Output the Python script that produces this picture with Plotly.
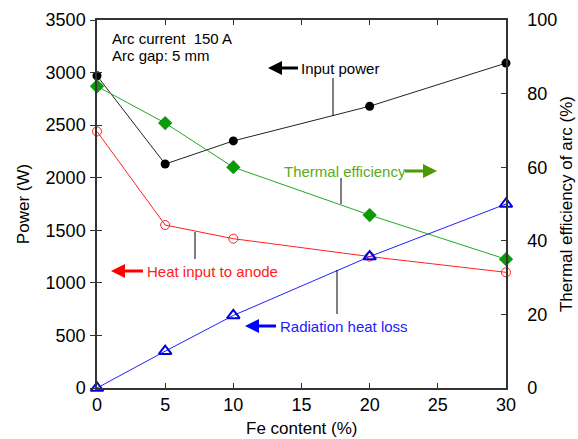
import plotly.graph_objects as go

# ---- data ----
fe_content = [0, 5, 10, 20, 30]
input_power = [2970, 2130, 2350, 2680, 3090]
heat_anode = [2440, 1550, 1420, 1250, 1100]
radiation_loss = [0, 350, 690, 1250, 1750]
thermal_eff = [82, 72, 60, 47, 35]

x_ticks = [0, 5, 10, 15, 20, 25, 30]
y_ticks = [0, 500, 1000, 1500, 2000, 2500, 3000, 3500]
y2_ticks = [0, 20, 40, 60, 80, 100]

FONT = "Liberation Sans, Arial, sans-serif"
W, H = 578, 439
L, R, T, B = 97, 506, 20, 388  # plot-area pixel box


def px(x):
    return (x - L) / (R - L)


def py(y):
    return (B - y) / (B - T)


fig = go.Figure()

fig.add_trace(go.Scatter(
    x=fe_content, y=input_power, mode="lines+markers",
    line=dict(color="#222222", width=1),
    marker=dict(symbol="circle", size=9, color="black"),
    cliponaxis=False, showlegend=False))
fig.add_trace(go.Scatter(
    x=fe_content, y=heat_anode, mode="lines+markers",
    line=dict(color="#ff2020", width=1),
    marker=dict(symbol="circle-open", size=9, color="#ff2020", line=dict(width=1)),
    cliponaxis=False, showlegend=False))
fig.add_trace(go.Scatter(
    x=fe_content, y=radiation_loss, mode="lines+markers",
    line=dict(color="#2020ff", width=1),
    marker=dict(symbol="triangle-up-open", size=11, color="#0000dd", line=dict(width=2)),
    cliponaxis=False, showlegend=False))
fig.add_trace(go.Scatter(
    x=fe_content, y=thermal_eff, mode="lines+markers", yaxis="y2",
    line=dict(color="#22aa22", width=1),
    marker=dict(symbol="diamond", size=11, color="#0a9a0a"),
    cliponaxis=False, showlegend=False))

shapes = []


def leader(x, y0, y1):
    shapes.append(dict(type="line", xref="paper", yref="paper",
                       x0=px(x), x1=px(x), y0=py(y0), y1=py(y1),
                       line=dict(color="black", width=1)))


def arrow(tip, tail, y, color, direction):
    # direction: -1 pointing left, +1 pointing right
    head_len, head_h = 14, 7
    base = tip - direction * head_len
    shapes.append(dict(type="line", xref="paper", yref="paper",
                       x0=px(base), x1=px(tail), y0=py(y), y1=py(y),
                       line=dict(color=color, width=3)))
    path = "M {} {} L {} {} L {} {} Z".format(
        px(tip), py(y), px(base), py(y - head_h), px(base), py(y + head_h))
    shapes.append(dict(type="path", xref="paper", yref="paper", path=path,
                       fillcolor=color, line=dict(color=color, width=0)))


leader(333, 78, 116)
leader(341, 178, 204)
leader(195, 232, 259)
leader(337, 270, 314)

arrow(268, 298, 68, "black", -1)
arrow(437, 405, 171, "#4a9a00", 1)
arrow(111, 143, 271, "#ff0000", -1)
arrow(245, 276, 326, "#0000ff", -1)

annotations = []


def label(x, y, text, color, size=15, anchor="left"):
    annotations.append(dict(xref="paper", yref="paper", x=px(x), y=py(y),
                            text=text, showarrow=False, xanchor=anchor,
                            yanchor="middle", align="left",
                            font=dict(family=FONT, size=size, color=color)))


label(299, 68, "Input power", "black")
label(282, 171, "Thermal efficiency", "#5aaa20")
label(145, 271, "Heat input to anode", "#ff2020")
label(278, 326, "Radiation heat loss", "#2020ff")
label(110, 38.5, "Arc current  150 A", "black")
label(110, 55.5, "Arc gap: 5 mm", "black")
label((L + R) / 2, 429, "Fe content (%)", "black", size=17, anchor="center")

axis_common = dict(showgrid=False, zeroline=False, showline=True,
                   linecolor="#333333", linewidth=1.5, automargin=False,
                   tickfont=dict(family=FONT, size=18, color="black"),
                   ticklen=5, tickcolor="#333333")

fig.update_layout(
    width=W, height=H,
    margin=dict(l=L, r=W - R, t=T, b=H - B, pad=0, autoexpand=False),
    paper_bgcolor="white", plot_bgcolor="white",
    font=dict(family=FONT, color="black"),
    shapes=shapes, annotations=annotations,
    xaxis=dict(range=[0, 30], tickvals=x_ticks, ticktext=[str(v) for v in x_ticks],
               ticks="inside", mirror="ticks",
               **axis_common),
    yaxis=dict(range=[0, 3500], tickvals=y_ticks, ticktext=[str(v) for v in y_ticks],
               ticks="outside", ticklabelstandoff=1,
               title=dict(text="Power (W)", font=dict(family=FONT, size=17), standoff=12),
               **axis_common),
    yaxis3=dict(range=[0, 3500], tickvals=y_ticks, overlaying="y", side="left",
                ticks="inside", showticklabels=False, showgrid=False, zeroline=False,
                showline=False, ticklen=5, tickcolor="#333333", automargin=False),
    yaxis2=dict(range=[0, 100], tickvals=y2_ticks, ticktext=[str(v) for v in y2_ticks],
                overlaying="y", side="right", ticks="inside", ticklabelstandoff=16,
                title=dict(text="Thermal efficiency of arc (%)",
                           font=dict(family=FONT, size=17), standoff=4),
                **axis_common),
)

# dummy trace to show yaxis3 ticks
fig.add_trace(go.Scatter(x=[None], y=[None], yaxis="y3", showlegend=False, hoverinfo="skip"))

fig.write_html("out.html", config={"displayModeBar": False},
               post_script="document.body.style.margin='0';document.body.style.padding='0';")
